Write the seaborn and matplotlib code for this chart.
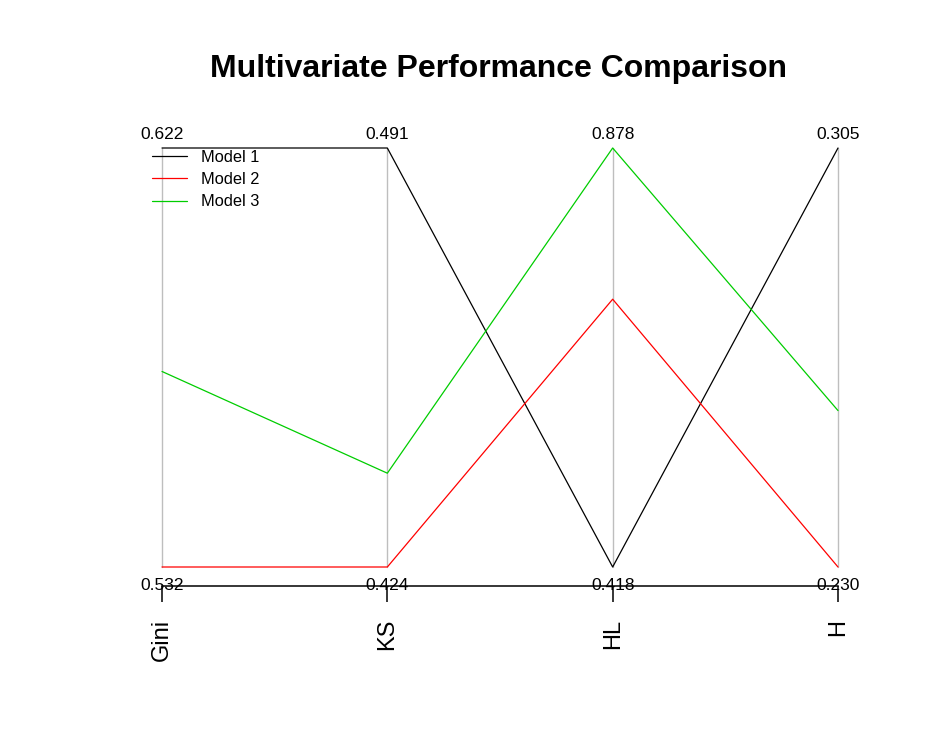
import numpy as np
import pandas as pd
import matplotlib
matplotlib.use("Agg")
import matplotlib.pyplot as plt
import seaborn as sns
from matplotlib.lines import Line2D

metrics = ["Gini", "KS", "HL", "H"]
models = ["Model 1", "Model 2", "Model 3"]
gini = [0.622, 0.532, 0.574]
ks = [0.491, 0.424, 0.439]
hl = [0.418, 0.712, 0.878]
h = [0.305, 0.230, 0.258]
colors = ["#000000", "#FF0000", "#00CD00"]

sns.set_style("white")
plt.rcParams['font.family'] = ['Liberation Sans', 'DejaVu Sans']
plt.rcParams['text.color'] = 'black'
plt.rcParams['xtick.color'] = 'black'
plt.rcParams['xtick.labelcolor'] = 'black'

raw = pd.DataFrame({"Gini": gini, "KS": ks, "HL": hl, "H": h}, index=models)
mins = raw.min()
maxs = raw.max()
scaled = (raw - mins) / (maxs - mins)
long = scaled.reset_index().melt(id_vars="index", var_name="Metric", value_name="Scaled")
long = long.rename(columns={"index": "Model"})
long["pos"] = long["Metric"].map({m: i for i, m in enumerate(metrics)})

W, H = 927, 749
fig = plt.figure(figsize=(W / 100, H / 100), dpi=100)
left = 162 / W
right = 838 / W
bottom = 1 - 586 / H
top = 1 - 148 / H
ax = fig.add_axes([left, bottom, right - left, top - bottom])
ybot = -(586 - 567) / (567 - 148)
ax.set_xlim(0, 3)
ax.set_ylim(ybot, 1)

for i in range(4):
    ax.plot([i, i], [0, 1], color="#BEBEBE", lw=1.0, zorder=1, clip_on=False)

sns.lineplot(data=long, x="pos", y="Scaled", hue="Model", palette=colors,
             units="Model", estimator=None, sort=False, lw=0.9, ax=ax, legend=False, zorder=3)
for ln in ax.lines:
    ln.set_clip_on(False)

for i, m in enumerate(metrics):
    ax.text(i, 1.0 + 13 / 419, f"{maxs[m]:.3f}", ha="center", va="center", fontsize=12.5)
    ax.text(i, ybot, f"{mins[m]:.3f}", ha="center", va="center", fontsize=12.5, zorder=5)

for s in ["top", "left", "right"]:
    ax.spines[s].set_visible(False)
ax.spines["bottom"].set_color("black")
ax.spines["bottom"].set_linewidth(1.1)
ax.set_yticks([])
ax.set_xticks(range(4))
ax.set_xticklabels(metrics, rotation=90, fontsize=17)
ax.tick_params(axis="x", direction="out", length=11.5, width=1.1, color="black", pad=12, bottom=True)
ax.set_xlabel("")
ax.set_ylabel("")

handles = [Line2D([0], [0], color=c, lw=0.9) for c in colors]
ax.legend(handles, models, loc="upper left", bbox_to_anchor=(-0.024, 1.011), frameon=False,
          fontsize=11.8, handlelength=2.1, handletextpad=0.9, labelspacing=0.45, borderaxespad=0)

fig.text(499 / W, 1 - 69 / H, "Multivariate Performance Comparison", ha="center", va="center",
         fontsize=23, fontweight="bold")

fig.savefig("out.png", dpi=100)
